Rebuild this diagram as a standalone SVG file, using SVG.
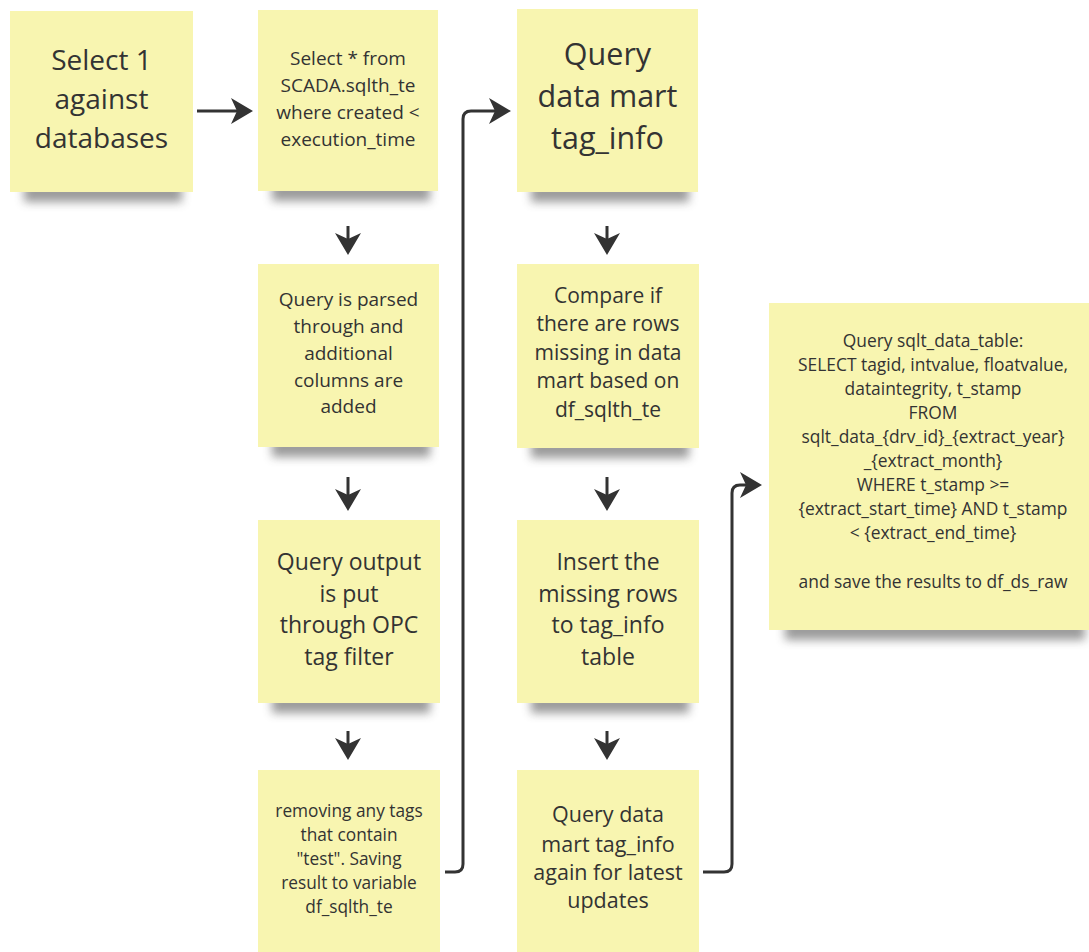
<svg xmlns="http://www.w3.org/2000/svg" width="1089" height="952" viewBox="0 0 1089 952">
  <style>
    .note { fill: #f8f5b0; }
    .shadow { fill: #4a4a4a; opacity: 0.55; filter: url(#blur); }
    text { font-family: "Open Sans", "Noto Sans", "Liberation Sans", sans-serif; fill: #333333; text-anchor: middle; }
    .wire { fill: none; stroke: #333333; stroke-width: 3; marker-end: url(#head); }
  </style>
  <defs>
    <filter id="blur" x="-20%" y="-100%" width="140%" height="300%">
      <feGaussianBlur stdDeviation="5"/>
    </filter>
    <marker id="head" markerUnits="userSpaceOnUse" markerWidth="24" markerHeight="28" refX="6" refY="13" orient="auto">
      <path d="M0,0 L22,13 L0,26 L6,13 Z" fill="#333333"/>
    </marker>
  </defs>

  <rect width="1089" height="952" fill="#ffffff"/>

  <!-- sticky note shadows -->
  <g id="shadows">
    <rect class="shadow" x="24" y="184" width="158" height="18"/>
    <rect class="shadow" x="272" y="183" width="158" height="18"/>
    <rect class="shadow" x="531" y="184" width="158" height="18"/>
    <rect class="shadow" x="272" y="439" width="158" height="18"/>
    <rect class="shadow" x="531" y="440" width="158" height="18"/>
    <rect class="shadow" x="272" y="695" width="158" height="18"/>
    <rect class="shadow" x="531" y="695" width="158" height="18"/>
    <rect class="shadow" x="785" y="622" width="300" height="18"/>
  </g>

  <g id="n1">
    <rect class="note" x="10" y="11" width="183" height="181"/>
    <text font-size="28"><tspan x="101.5" y="70">Select 1</tspan><tspan x="101.5" y="109">against</tspan><tspan x="101.5" y="148">databases</tspan></text>
  </g>

  <g id="n2">
    <rect class="note" x="258" y="10" width="180" height="181"/>
    <text font-size="19"><tspan x="348" y="65">Select * from</tspan><tspan x="348" y="92">SCADA.sqlth_te</tspan><tspan x="348" y="119">where created &lt;</tspan><tspan x="348" y="146">execution_time</tspan></text>
  </g>

  <g id="n3">
    <rect class="note" x="517" y="9" width="181" height="183"/>
    <text font-size="30.5"><tspan x="607.5" y="65">Query</tspan><tspan x="607.5" y="107">data mart</tspan><tspan x="607.5" y="149">tag_info</tspan></text>
  </g>

  <g id="n4">
    <rect class="note" x="258" y="264" width="181" height="183"/>
    <text font-size="19"><tspan x="348.5" y="306">Query is parsed</tspan><tspan x="348.5" y="333">through and</tspan><tspan x="348.5" y="360">additional</tspan><tspan x="348.5" y="387">columns are</tspan><tspan x="348.5" y="413">added</tspan></text>
  </g>

  <g id="n5">
    <rect class="note" x="517" y="264" width="182" height="184"/>
    <text font-size="21"><tspan x="608" y="303">Compare if</tspan><tspan x="608" y="331">there are rows</tspan><tspan x="608" y="360">missing in data</tspan><tspan x="608" y="388">mart based on</tspan><tspan x="608" y="417">df_sqlth_te</tspan></text>
  </g>

  <g id="n6">
    <rect class="note" x="258" y="520" width="182" height="183"/>
    <text font-size="23"><tspan x="349" y="570">Query output</tspan><tspan x="349" y="602">is put</tspan><tspan x="349" y="633">through OPC</tspan><tspan x="349" y="665">tag filter</tspan></text>
  </g>

  <g id="n7">
    <rect class="note" x="517" y="520" width="182" height="183"/>
    <text font-size="23"><tspan x="608" y="570">Insert the</tspan><tspan x="608" y="602">missing rows</tspan><tspan x="608" y="633">to tag_info</tspan><tspan x="608" y="665">table</tspan></text>
  </g>

  <g id="n8">
    <rect class="note" x="258" y="770" width="182" height="182"/>
    <text font-size="17.3"><tspan x="349" y="817">removing any tags</tspan><tspan x="349" y="841">that contain</tspan><tspan x="349" y="865">"test". Saving</tspan><tspan x="349" y="889">result to variable</tspan><tspan x="349" y="913">df_sqlth_te</tspan></text>
  </g>

  <g id="n9">
    <rect class="note" x="517" y="770" width="182" height="182"/>
    <text font-size="21.5"><tspan x="608" y="822">Query data</tspan><tspan x="608" y="852">mart tag_info</tspan><tspan x="608" y="880">again for latest</tspan><tspan x="608" y="908">updates</tspan></text>
  </g>

  <g id="n10">
    <rect class="note" x="769" y="303" width="328" height="327"/>
    <text font-size="17.4"><tspan x="933" y="347">Query sqlt_data_table:</tspan><tspan x="933" y="371">SELECT tagid, intvalue, floatvalue,</tspan><tspan x="933" y="395">dataintegrity, t_stamp</tspan><tspan x="933" y="419">FROM</tspan><tspan x="933" y="443">sqlt_data_{drv_id}_{extract_year}</tspan><tspan x="933" y="467">_{extract_month}</tspan><tspan x="933" y="491">WHERE t_stamp &gt;=</tspan><tspan x="933" y="515">{extract_start_time} AND t_stamp</tspan><tspan x="933" y="539">&lt; {extract_end_time}</tspan><tspan x="933" y="588">and save the results to df_ds_raw</tspan></text>
  </g>

  <!-- connectors -->
  <g id="connectors">
    <path class="wire" d="M197,111 H237"/>
    <path class="wire" d="M348,226 V239"/>
    <path class="wire" d="M348,477 V495"/>
    <path class="wire" d="M348,731 V744"/>
    <path class="wire" d="M607,226 V239"/>
    <path class="wire" d="M607,477 V495"/>
    <path class="wire" d="M607,731 V744"/>
    <path class="wire" d="M445,872 H455 Q463,872 463,864 V119 Q463,111 471,111 H495"/>
    <path class="wire" d="M703,872 H724 Q732,872 732,864 V493 Q732,485 740,485 H746"/>
  </g>
</svg>
